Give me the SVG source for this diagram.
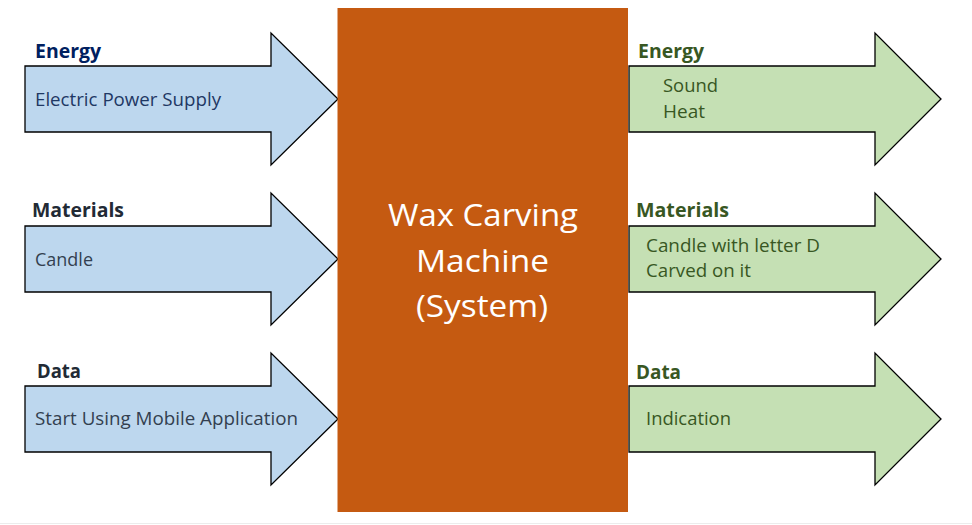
<svg xmlns="http://www.w3.org/2000/svg" width="972" height="525" viewBox="0 0 972 525">
<defs>
<style>
.in{fill:#bdd7ee;stroke:#000;stroke-width:1.3;stroke-linejoin:miter}
.out{fill:#c5e0b4;stroke:#000;stroke-width:1.3;stroke-linejoin:miter}
text{font-family:"Open Sans","Noto Sans","DejaVu Sans",sans-serif}
.h{font-weight:bold;font-size:19px}
.t{font-size:17.5px}
.hb{fill:#002060}.hd{fill:#222a35}.tb{fill:#1f3864}.td{fill:#333f50}
.g{fill:#385723}
.c{fill:#fff;font-size:31px;text-anchor:middle}
</style>
</defs>
<rect width="972" height="525" fill="#fff"/>
<line x1="0" y1="523.5" x2="972" y2="523.5" stroke="#ececec" stroke-width="1"/>
<g id="in-energy">
<path class="in" d="M25,66 H271 V33 L338,99 L271,165 V132 H25 Z"/>
<text class="h hb" x="35" y="58" textLength="66" lengthAdjust="spacingAndGlyphs">Energy</text>
<text class="t tb" x="35" y="106" textLength="186" lengthAdjust="spacingAndGlyphs">Electric Power Supply</text>
</g>
<g id="in-materials">
<path class="in" d="M25,226 H271 V193 L338,259 L271,325 V292 H25 Z"/>
<text class="h hd" x="32" y="217" textLength="92" lengthAdjust="spacingAndGlyphs">Materials</text>
<text class="t td" x="35" y="266" textLength="58" lengthAdjust="spacingAndGlyphs">Candle</text>
</g>
<g id="in-data">
<path class="in" d="M25,386 H271 V353 L338,419 L271,485 V452 H25 Z"/>
<text class="h hd" x="37" y="378" textLength="44" lengthAdjust="spacingAndGlyphs">Data</text>
<text class="t td" x="35" y="425" textLength="263" lengthAdjust="spacingAndGlyphs">Start Using Mobile Application</text>
</g>
<g id="out-energy">
<path class="out" d="M629,66 H875 V33 L941,99 L875,165 V132 H629 Z"/>
<text class="h g" x="638" y="58" textLength="66" lengthAdjust="spacingAndGlyphs">Energy</text>
<text class="t g" x="663" y="92" textLength="55" lengthAdjust="spacingAndGlyphs">Sound</text>
<text class="t g" x="663" y="118" textLength="42" lengthAdjust="spacingAndGlyphs">Heat</text>
</g>
<g id="out-materials">
<path class="out" d="M629,226 H875 V193 L941,259 L875,325 V292 H629 Z"/>
<text class="h g" x="636" y="217" textLength="93" lengthAdjust="spacingAndGlyphs">Materials</text>
<text class="t g" x="646" y="252" textLength="174" lengthAdjust="spacingAndGlyphs">Candle with letter D</text>
<text class="t g" x="646" y="277" textLength="105" lengthAdjust="spacingAndGlyphs">Carved on it</text>
</g>
<g id="out-data">
<path class="out" d="M629,386 H875 V353 L941,419 L875,485 V452 H629 Z"/>
<text class="h g" x="636" y="379" textLength="45" lengthAdjust="spacingAndGlyphs">Data</text>
<text class="t g" x="646" y="425" textLength="85" lengthAdjust="spacingAndGlyphs">Indication</text>
</g>
<g id="system">
<rect x="337.5" y="8" width="290.5" height="504" fill="#c55a11"/>
<text class="c" x="483" y="226" textLength="190" lengthAdjust="spacingAndGlyphs">Wax Carving</text>
<text class="c" x="482.5" y="272" textLength="133" lengthAdjust="spacingAndGlyphs">Machine</text>
<text class="c" x="482" y="317" textLength="132" lengthAdjust="spacingAndGlyphs">(System)</text>
</g>
<g id="connectors"></g>
</svg>
